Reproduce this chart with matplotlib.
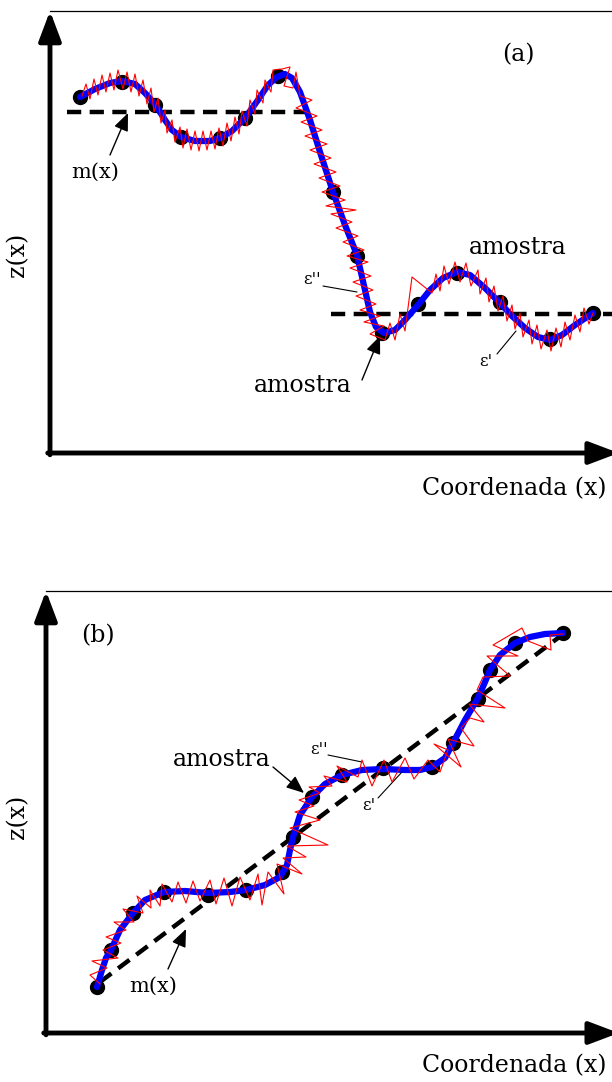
import numpy as np
import matplotlib
matplotlib.use("Agg")
import matplotlib.pyplot as plt

plt.rcParams['font.family'] = ['DejaVu Serif']

# ---- panel (a) ----
# sample points (amostra), coordinates (pixels)
a_dots_x = [80, 122, 155, 181, 220, 245, 278, 333, 357, 382, 418, 457, 500, 550, 593]
a_dots_z = [97, 82, 105, 137, 138, 118, 76, 192, 256, 333, 304, 273, 302, 339, 313]

# smooth profile
a_curve_x = [80, 95, 110, 122, 135, 145, 155, 165, 172, 181, 195, 210, 220, 232, 245,
             258, 268, 277, 285, 292, 300, 310, 320, 333, 345, 357, 365, 370, 376,
             384, 395, 405, 418, 430, 443, 457, 470, 485, 500, 512, 525, 538, 550,
             562, 575, 593]
a_curve_z = [97, 89, 83, 81, 84, 93, 104, 120, 130, 137, 141, 141, 138, 131, 118,
             100, 85, 77, 74, 78, 92, 120, 152, 192, 225, 255, 290, 312, 327,
             333, 330, 320, 305, 290, 278, 272, 275, 288, 303, 316, 328, 337, 340,
             335, 325, 313]

# roughness zigzag
a_rough = [(82, 96), (86, 84), (90, 99), (94, 79), (98, 95), (102, 75), (106, 92), (110, 73),
           (114, 90), (118, 70), (123, 89), (127, 72), (131, 92), (135, 74), (139, 96), (143, 80),
           (147, 104), (151, 88), (154, 112), (158, 98), (161, 123), (165, 110), (167, 133),
           (172, 120), (175, 142), (180, 127), (183, 148), (187, 129), (191, 150), (195, 131),
           (199, 151), (203, 131), (207, 150), (211, 131), (215, 149), (219, 128), (223, 146),
           (227, 123), (231, 141), (235, 117), (239, 134), (242, 111), (247, 126), (250, 100),
           (255, 114), (257, 90), (263, 103), (265, 80), (271, 92), (273, 70), (282, 69),
           (290, 67), (284, 86), (293, 88), (296, 72), (300, 96),
           (312, 100), (296, 108), (317, 116), (301, 122), (322, 130), (305, 136), (327, 144),
           (310, 150), (331, 158), (314, 164), (336, 172), (319, 178), (340, 186), (322, 192),
           (345, 200), (326, 206), (356, 210), (331, 214), (352, 222), (336, 228), (358, 236),
           (343, 242), (364, 250), (347, 256), (368, 262), (350, 268), (371, 276), (353, 282),
           (373, 290), (356, 296), (376, 304), (360, 310), (380, 316), (364, 322), (384, 326),
           (370, 334), (385, 340),
           (390, 323), (395, 340), (400, 314), (405, 331), (412, 277), (432, 293), (436, 274),
           (440, 291), (444, 266), (449, 284), (455, 262), (460, 282), (466, 263), (471, 286),
           (478, 270), (480, 294), (486, 278), (489, 302), (494, 286), (498, 311), (503, 296),
           (507, 321), (512, 305), (515, 329), (520, 313), (523, 337), (529, 320), (532, 344),
           (537, 325), (541, 349), (547, 330), (551, 351), (556, 328), (561, 347), (565, 322),
           (570, 340), (575, 315), (580, 332), (584, 308), (589, 324), (593, 313)]

# mean lines m(x)
a_mean1_x = [67, 307]
a_mean1_z = [112, 112]
a_mean2_x = [331, 615]
a_mean2_z = [314, 314]

# ---- panel (b) ----
b_dots_x = [97, 111, 133, 164, 208, 246, 282, 293, 312, 342, 383, 432, 453, 478, 490, 515, 563]
b_dots_z = [987, 950, 913, 892, 895, 890, 872, 837, 797, 775, 768, 767, 743, 699, 670, 643, 633]

b_curve_x = [97, 102, 106, 111, 120, 133, 145, 164, 185, 208, 230, 246, 265, 280, 287, 290,
             293, 300, 312, 325, 342, 362, 383, 405, 420, 432, 445, 453, 465, 478, 485,
             490, 500, 515, 530, 545, 563]
b_curve_z = [987, 970, 958, 950, 930, 913, 900, 892, 891, 893, 892, 890, 885, 877, 865, 850,
             837, 815, 797, 784, 775, 770, 769, 770, 770, 767, 758, 743, 720, 698, 682,
             670, 655, 643, 637, 634, 633]

b_rough = [(100, 984), (90, 975), (107, 968), (92, 961), (118, 958), (103, 950), (121, 943),
           (106, 937), (126, 930), (114, 922), (134, 922), (123, 909), (143, 913), (137, 896),
           (151, 908), (150, 890), (160, 906), (162, 884), (172, 902), (178, 882), (186, 903),
           (193, 881), (200, 901), (210, 880), (216, 904), (224, 878), (232, 906), (240, 877),
           (250, 900), (258, 874), (262, 905), (268, 872), (284, 894), (277, 864), (302, 874),
           (283, 858), (306, 857), (287, 846), (328, 845), (290, 828), (320, 820), (295, 812),
           (314, 806), (299, 800), (320, 793), (309, 787), (332, 786), (324, 776), (347, 782),
           (337, 766), (358, 777), (362, 760), (372, 786), (384, 760), (392, 782), (405, 758),
           (414, 779), (428, 760), (440, 772), (448, 750), (434, 744), (461, 767), (448, 739),
           (474, 746), (461, 728), (470, 718), (484, 722), (469, 704), (505, 708), (477, 690),
           (483, 677), (510, 676), (487, 656), (518, 656), (493, 645), (522, 628), (528, 641),
           (551, 650), (550, 635), (563, 634)]

b_mean_x = [100, 562]
b_mean_z = [982, 635]

W, H = 612, 1082
fig = plt.figure(figsize=(W / 100, H / 100), dpi=100)


def make_panel(left, right, top, bottom):
    ax = fig.add_axes([left / W, (H - bottom) / H, (right - left) / W, (bottom - top) / H])
    ax.set_xlim(left, right)
    ax.set_ylim(bottom, top)
    ax.axis('off')
    # thin frame on top
    ax.plot([0, 1], [1, 1], transform=ax.transAxes, color='k', lw=0.9, clip_on=False)
    # axes with arrow heads
    style = '-|>,head_length=0.45,head_width=0.17'
    ax.annotate('', xy=(0, 1.0), xytext=(0, -0.004), xycoords='axes fraction',
                arrowprops=dict(arrowstyle=style, lw=3.5, color='k', mutation_scale=40,
                                shrinkA=0, shrinkB=0))
    ax.annotate('', xy=(1.012, 0), xytext=(-0.004, 0), xycoords='axes fraction',
                arrowprops=dict(arrowstyle=style, lw=3.5, color='k', mutation_scale=40,
                                shrinkA=0, shrinkB=0))
    return ax


def draw_profile(ax, cx, cz, dx, dz, rough):
    ax.plot(dx, dz, 'o', color='k', ms=10, zorder=2)
    ax.plot(cx, cz, color='#0000ff', lw=4.5, solid_capstyle='round', zorder=3)
    rx = [p[0] for p in rough]
    rz = [p[1] for p in rough]
    ax.plot(rx, rz, color='#ff0000', lw=0.8, zorder=4)


dash = dict(color='k', lw=3.2, linestyle=(0, (3.2, 1.9)), zorder=1)
arrow_k = dict(arrowstyle='-|>,head_length=0.6,head_width=0.25', color='k', lw=1.0,
               mutation_scale=18, shrinkA=0, shrinkB=0)
line_k = dict(arrowstyle='-', color='k', lw=0.8, shrinkA=0, shrinkB=0)

# panel (a)
ax1 = make_panel(50, 612, 11, 453)
ax1.plot(a_mean1_x, a_mean1_z, **dash)
ax1.plot(a_mean2_x, a_mean2_z, clip_on=False, **dash)
draw_profile(ax1, a_curve_x, a_curve_z, a_dots_x, a_dots_z, a_rough)
ax1.text(518, 55, '(a)', fontsize=17, ha='center', va='center')
ax1.text(95, 172, 'm(x)', fontsize=15, ha='center', va='center')
ax1.annotate('', xy=(128, 113), xytext=(110, 155), arrowprops=arrow_k)
ax1.text(518, 247, 'amostra', fontsize=17, ha='center', va='center')
ax1.text(303, 386, 'amostra', fontsize=17, ha='center', va='center')
ax1.annotate('', xy=(380, 336), xytext=(362, 380), arrowprops=arrow_k)
ax1.text(312, 279, "ε''", fontsize=12, ha='center', va='center')
ax1.annotate('', xy=(357, 292), xytext=(323, 286), arrowprops=line_k)
ax1.text(486, 361, "ε'", fontsize=12, ha='center', va='center')
ax1.annotate('', xy=(516, 331), xytext=(497, 354), arrowprops=line_k)
ax1.text(18, 255, 'z(x)', fontsize=17, rotation=90, ha='center', va='center', clip_on=False)
ax1.text(606, 489, 'Coordenada (x)', fontsize=17, ha='right', va='center', clip_on=False)

# panel (b)
ax2 = make_panel(46, 612, 591, 1033)
ax2.plot(b_mean_x, b_mean_z, **dash)
draw_profile(ax2, b_curve_x, b_curve_z, b_dots_x, b_dots_z, b_rough)
ax2.text(98, 636, '(b)', fontsize=17, ha='center', va='center')
ax2.text(222, 759, 'amostra', fontsize=17, ha='center', va='center')
ax2.annotate('', xy=(304, 793), xytext=(273, 767), arrowprops=arrow_k)
ax2.text(153, 986, 'm(x)', fontsize=15, ha='center', va='center')
ax2.annotate('', xy=(186, 929), xytext=(168, 969), arrowprops=arrow_k)
ax2.text(319, 749, "ε''", fontsize=12, ha='center', va='center')
ax2.annotate('', xy=(362, 762), xytext=(328, 755), arrowprops=line_k)
ax2.text(369, 805, "ε'", fontsize=12, ha='center', va='center')
ax2.annotate('', xy=(402, 772), xytext=(378, 798), arrowprops=line_k)
ax2.text(18, 817, 'z(x)', fontsize=17, rotation=90, ha='center', va='center', clip_on=False)
ax2.text(606, 1066, 'Coordenada (x)', fontsize=17, ha='right', va='center', clip_on=False)

fig.savefig('out.png', dpi=100)
